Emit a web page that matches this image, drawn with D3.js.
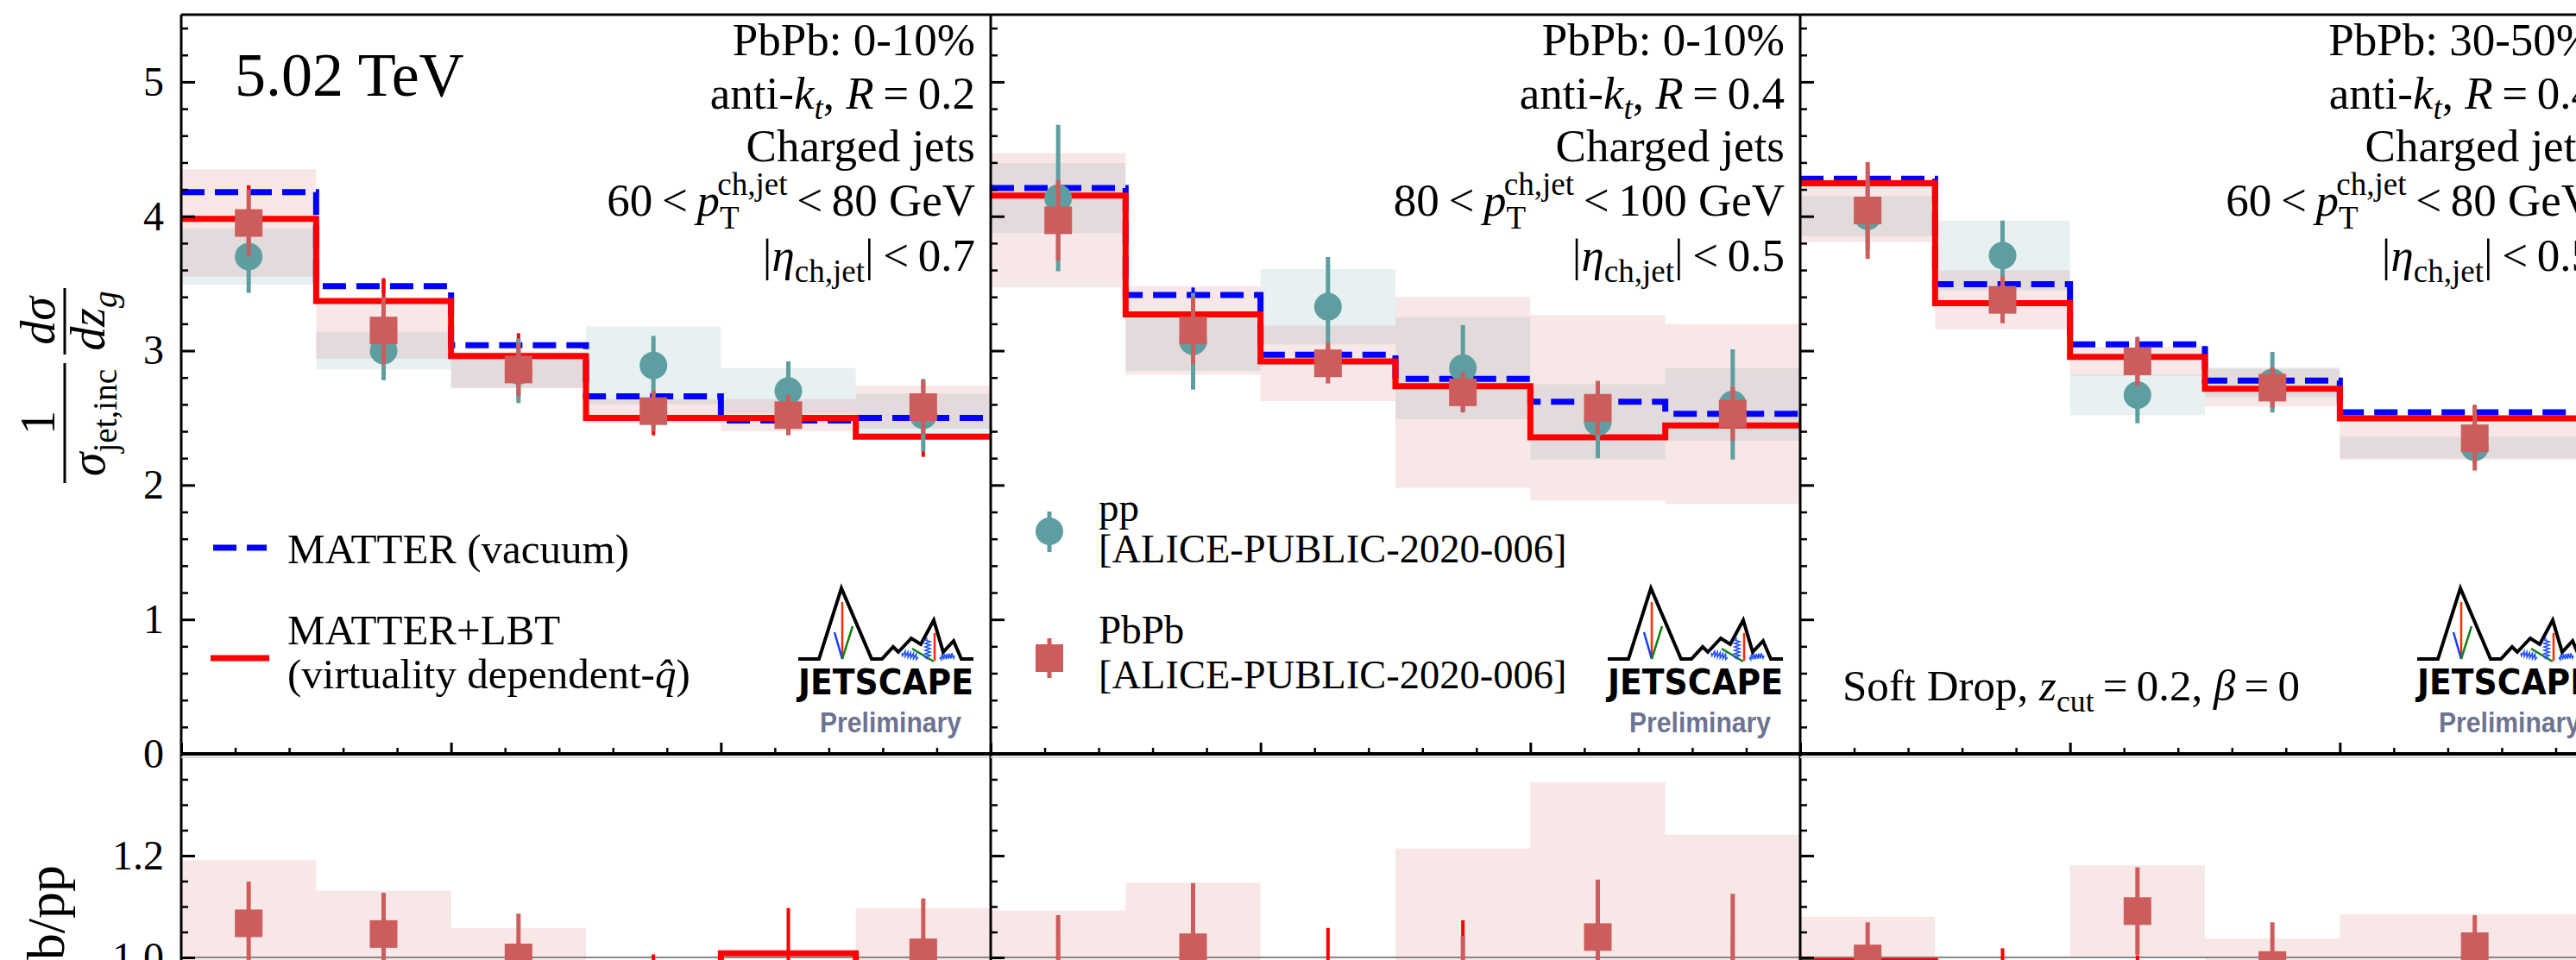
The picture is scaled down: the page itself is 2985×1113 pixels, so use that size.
<!DOCTYPE html>
<html>
<head>
<meta charset="utf-8">
<title>JETSCAPE z_g, PbPb vs pp</title>
<script src="https://cdn.jsdelivr.net/npm/d3@7"></script>
<style>
  body { margin: 0; background: #fff; }
  svg { display: block; }
  text { font-family: "Liberation Serif", "DejaVu Serif", serif; fill: #000; white-space: pre; }
</style>
</head>
<body>
<div id="chart"></div>
<script>

// ---------------- values ----------------

// z_g bin edges (the 30-50% panel uses a wide last bin)
const zgEdgesA = [0.2, 0.25, 0.3, 0.35, 0.4, 0.45, 0.5];
const zgEdgesB = [0.2, 0.25, 0.3, 0.35, 0.4, 0.5];

// panel 1 : PbPb 0-10%, R=0.2, 60-80 GeV
const p1Vacuum    = [4.18, 3.48, 3.04, 2.66, 2.48, 2.50];
const p1VacuumErr = [0.05, 0.05, 0.05, 0.04, 0.04, 0.04];
const p1Lbt       = [3.98, 3.37, 2.96, 2.50, 2.50, 2.36];
const p1LbtErr    = [0.25, 0.17, 0.17, 0.13, 0.12, 0.15];
const p1Pp        = [3.70, 3.00, 2.85, 2.89, 2.70, 2.52];
const p1PpErr     = [0.27, 0.22, 0.24, 0.22, 0.22, 0.27];
const p1PpSys     = [0.21, 0.14, 0.13, 0.29, 0.17, 0.16];
const p1Pb        = [3.95, 3.15, 2.86, 2.55, 2.52, 2.58];
const p1PbErr     = [0.25, 0.25, 0.20, 0.15, 0.15, 0.20];
const p1PbSys     = [0.40, 0.21, 0.135, 0.09, 0.12, 0.16];
const p1RatioTh    = [0.952, 0.967, 0.973, 0.939, 1.008, 0.945];
const p1RatioThErr = [0.030, 0.025, 0.020, 0.067, 0.089, 0.040];
const p1Ratio      = [1.067, 1.046, 1.000, 0.880, 0.930, 1.010];
const p1RatioErr   = [0.082, 0.081, 0.086, 0.090, 0.060, 0.106];
const p1RatioSys   = [0.124, 0.085, 0.058, 0.100, 0.060, 0.087];

// panel 2 : PbPb 0-10%, R=0.4, 80-100 GeV
const p2Vacuum    = [4.21, 3.415, 2.97, 2.79, 2.62, 2.53];
const p2VacuumErr = [0.05, 0.055, 0.05, 0.05, 0.05, 0.05];
const p2Lbt       = [4.154, 3.27, 2.92, 2.735, 2.355, 2.444];
const p2LbtErr    = [0.12, 0.10, 0.10, 0.10, 0.10, 0.10];
const p2Pp        = [4.135, 3.07, 3.327, 2.87, 2.47, 2.60];
const p2PpErr     = [0.545, 0.36, 0.37, 0.32, 0.27, 0.41];
const p2PpSys     = [0.26, 0.22, 0.28, 0.38, 0.28, 0.27];
const p2Pb        = [3.97, 3.15, 2.906, 2.69, 2.575, 2.53];
const p2PbErr     = [0.30, 0.25, 0.15, 0.15, 0.20, 0.20];
const p2PbSys     = [0.50, 0.33, 0.28, 0.71, 0.69, 0.67];
const p2RatioTh    = [0.987, 0.957, 0.983, 0.980, 0.900, 0.966];
const p2RatioThErr = [0.055, 0.030, 0.075, 0.093, 0.050, 0.074];
const p2Ratio      = [0.960, 1.020, 0.873, 0.937, 1.040, 0.965];
const p2RatioErr   = [0.123, 0.126, 0.100, 0.105, 0.113, 0.160];
const p2RatioSys   = [0.132, 0.127, 0.100, 0.277, 0.304, 0.276];

// panel 3 : PbPb 30-50%, R=0.4, 60-80 GeV
const p3Vacuum    = [4.279, 3.494, 3.047, 2.777, 2.541];
const p3VacuumErr = [0.05, 0.05, 0.055, 0.05, 0.05];
const p3Lbt       = [4.245, 3.354, 2.953, 2.717, 2.496];
const p3LbtErr    = [0.15, 0.10, 0.12, 0.10, 0.10];
const p3Pp        = [4.00, 3.708, 2.67, 2.765, 2.28];
const p3PpErr     = [0.25, 0.26, 0.21, 0.225, 0.12];
const p3PpSys     = [0.15, 0.26, 0.15, 0.11, 0.08];
const p3Pb        = [4.043, 3.378, 2.92, 2.725, 2.348];
const p3PbErr     = [0.36, 0.174, 0.18, 0.15, 0.24];
const p3PbSys     = [0.235, 0.22, 0.107, 0.14, 0.16];
const p3RatioTh    = [0.993, 0.964, 0.974, 0.978, 0.982];
const p3RatioThErr = [0.020, 0.054, 0.030, 0.020, 0.015];
const p3Ratio      = [0.998, 0.910, 1.091, 0.985, 1.022];
const p3RatioErr   = [0.071, 0.080, 0.086, 0.084, 0.061];
const p3RatioSys   = [0.082, 0.060, 0.090, 0.052, 0.063];

// panel labels
const centralities = ["0-10%", "0-10%", "30-50%"];
const jetRadii     = ["0.2", "0.4", "0.4"];
const ptLow        = ["60", "80", "60"];
const ptHigh       = ["80", "100", "80"];
const etaMax       = ["0.7", "0.5", "0.5"];

const yTicksTop   = [0, 1, 2, 3, 4, 5];
const yTicksRatio = [1.0, 1.2];
const xTicks      = [0.2, 0.3, 0.4, 0.5];


// ---------------- layout ----------------

const W = 2985, H = 1113;
const LEFT = 210, PANEL_W = 938, TOP = 17, SPLIT = 874;

const svg = d3.select("#chart").append("svg")
    .attr("width", W)
    .attr("height", H);

svg.append("rect").attr("width", W).attr("height", H).attr("fill", "#fff");
const defs = svg.append("defs");

// shared y scales
const yTop = d3.scaleLinear().domain([0, 5.5]).range([SPLIT, TOP]);
const yRatio = d3.scaleLinear().domain([1.0, 1.4]).range([1110, SPLIT]);

const ppColor = "cadetblue", pbColor = "indianred";


/*
 * text with italic parts, sub- and superscripts
 * parts: {t, i (italic), s (size factor), off (baseline offset in em), dx (em)}
 */
function richText(parent, x, y, parts, size, anchor) {
    let t = parent.append("text")
        .attr("x", x).attr("y", y)
        .attr("font-size", size)
        .attr("text-anchor", anchor || "start");
    let cur = 0;
    parts.forEach(p => {
        let off = (p.off || 0) * size;
        let ts = t.append("tspan")
            .attr("font-size", size * (p.s || 1))
            .attr("dy", off - cur)
            .text(p.t);
        if (p.i) ts.attr("font-style", "italic");
        if (p.dx) ts.attr("dx", p.dx * size);
        cur = off;
    });
    return t;
}


// small spring drawn between two points
function coil(g, x1, y1, x2, y2, n) {
    let pts = [];
    let dx = x2 - x1, dy = y2 - y1, len = Math.hypot(dx, dy);
    let nx = -dy / len * 3, ny = dx / len * 3;
    for (let k = 0; k <= n * 2; k++) {
        let f = k / (n * 2), s = k === 0 || k === n * 2 ? 0 : (k % 2 ? 1 : -1);
        pts.push([x1 + dx * f + nx * s, y1 + dy * f + ny * s]);
    }
    g.append("path").attr("d", d3.line()(pts))
        .attr("fill", "none").attr("stroke", "#2050ff").attr("stroke-width", 1.6);
}


// JETSCAPE logo with "Preliminary" tag
function drawLogo(parent, x0, yb) {
    let g = parent.append("g").attr("transform", `translate(${x0},${yb})`);

    let ridge = [[0, 0], [24, 0], [50, -82], [85, 0], [97, 0], [110, -14], [116, -8], [131, -24],
        [142, -17], [157, -45], [168, -8], [180, -21], [189, 0], [203, 0]];
    g.append("path").attr("d", d3.line()(ridge))
        .attr("fill", "none").attr("stroke", "#000").attr("stroke-width", 4);

    // jet lines in the big peak
    g.append("line").attr("x1", 51).attr("y1", 0).attr("x2", 51).attr("y2", -66)
        .attr("stroke", "#ff2a00").attr("stroke-width", 2.5);
    g.append("line").attr("x1", 51).attr("y1", 0).attr("x2", 42).attr("y2", -31)
        .attr("stroke", "#1040ff").attr("stroke-width", 2.5);
    g.append("line").attr("x1", 51).attr("y1", 0).attr("x2", 63).attr("y2", -38)
        .attr("stroke", "#108010").attr("stroke-width", 2.5);

    // small shower in the second peak
    g.append("line").attr("x1", 158).attr("y1", 2).attr("x2", 158).attr("y2", -30)
        .attr("stroke", "#ff2a00").attr("stroke-width", 2.5);
    g.append("line").attr("x1", 132).attr("y1", -12).attr("x2", 157).attr("y2", 3)
        .attr("stroke", "#108010").attr("stroke-width", 2.5);
    coil(g, 120, -7, 139, -2, 6);
    coil(g, 150, -24, 150, 0, 6);
    coil(g, 164, -2, 181, -4, 6);

    g.append("text")
        .attr("x", 0).attr("y", 41)
        .style("font-family", "'DejaVu Sans', sans-serif")
        .style("font-weight", "900")
        .attr("font-size", 40)
        .attr("textLength", 203)
        .attr("lengthAdjust", "spacingAndGlyphs")
        .text("JETSCAPE");

    g.append("text")
        .attr("x", 25).attr("y", 85)
        .style("font-family", "'Liberation Sans', sans-serif")
        .style("font-weight", "bold")
        .attr("font-size", 34)
        .attr("textLength", 164)
        .attr("lengthAdjust", "spacingAndGlyphs")
        .style("fill", "#6d7392")
        .text("Preliminary");
}


/*
 * ZgPanel - one column: spectrum on top, PbPb/pp ratio below
 */
class ZgPanel {

    constructor(_parent, _data, _index) {
        this.parent = _parent;
        this.data = _data;
        this.index = _index;

        this.initVis();
    }

    initVis() {
        let vis = this;

        vis.left = LEFT + vis.index * PANEL_W;
        vis.x = d3.scaleLinear().domain([0.2, 0.5]).range([vis.left, vis.left + PANEL_W]);
        vis.edges = vis.data.edges;
        vis.centers = d3.range(vis.edges.length - 1).map(i => (vis.edges[i] + vis.edges[i + 1]) / 2);

        defs.append("clipPath").attr("id", "clipTop" + vis.index)
            .append("rect").attr("x", vis.left).attr("y", TOP)
            .attr("width", PANEL_W).attr("height", SPLIT - TOP);
        defs.append("clipPath").attr("id", "clipRatio" + vis.index)
            .append("rect").attr("x", vis.left).attr("y", SPLIT)
            .attr("width", PANEL_W).attr("height", 400);

        vis.g = vis.parent.append("g").attr("class", "panel");

        vis.drawSpectrum();
        vis.drawRatio();
        vis.drawAxes();
        vis.drawLabels();
    }

    stepPath(vals, y) {
        let vis = this;
        let pts = vals.map((v, i) => [vis.edges[i], v]);
        pts.push([vis.edges[vis.edges.length - 1], vals[vals.length - 1]]);
        return d3.line()
            .x(d => vis.x(d[0]))
            .y(d => y(d[1]))
            .curve(d3.curveStepAfter)(pts);
    }

    sysBoxes(g, vals, sys, y, color) {
        let vis = this;
        g.append("g").selectAll("rect")
            .data(vals)
            .enter()
            .append("rect")
            .attr("x", (v, i) => vis.x(vis.edges[i]))
            .attr("width", (v, i) => vis.x(vis.edges[i + 1]) - vis.x(vis.edges[i]))
            .attr("y", (v, i) => y(v + sys[i]))
            .attr("height", (v, i) => y(v - sys[i]) - y(v + sys[i]))
            .attr("fill", color)
            .attr("fill-opacity", 0.15);
    }

    errBars(g, vals, err, y, color, width) {
        let vis = this;
        g.append("g").selectAll("line")
            .data(vals)
            .enter()
            .append("line")
            .attr("x1", (v, i) => vis.x(vis.centers[i]))
            .attr("x2", (v, i) => vis.x(vis.centers[i]))
            .attr("y1", (v, i) => y(v - err[i]))
            .attr("y2", (v, i) => y(v + err[i]))
            .attr("stroke", color)
            .attr("stroke-width", width);
    }

    squares(g, vals, y) {
        let vis = this;
        g.append("g").selectAll("rect")
            .data(vals)
            .enter()
            .append("rect")
            .attr("x", (v, i) => vis.x(vis.centers[i]) - 16)
            .attr("y", v => y(v) - 16)
            .attr("width", 32)
            .attr("height", 32)
            .attr("fill", pbColor);
    }

    drawSpectrum() {
        let vis = this, d = vis.data;
        let g = vis.g.append("g").attr("clip-path", `url(#clipTop${vis.index})`);

        // systematic boxes
        vis.sysBoxes(g, d.pp, d.ppSys, yTop, ppColor);
        vis.sysBoxes(g, d.pb, d.pbSys, yTop, pbColor);

        // theory curves
        g.append("path").attr("d", vis.stepPath(d.vacuum, yTop))
            .attr("fill", "none").attr("stroke", "#0000ff")
            .attr("stroke-width", 7).attr("stroke-dasharray", "27,12");
        g.append("path").attr("d", vis.stepPath(d.lbt, yTop))
            .attr("fill", "none").attr("stroke", "#ff0000").attr("stroke-width", 7);
        vis.errBars(g, d.vacuum, d.vacuumErr, yTop, "#0000ff", 4);
        vis.errBars(g, d.lbt, d.lbtErr, yTop, "#ff0000", 4);

        // pp data
        vis.errBars(g, d.pp, d.ppErr, yTop, ppColor, 5);
        g.append("g").selectAll("circle")
            .data(d.pp)
            .enter()
            .append("circle")
            .attr("cx", (v, i) => vis.x(vis.centers[i]))
            .attr("cy", v => yTop(v))
            .attr("r", 16)
            .attr("fill", ppColor);

        // PbPb data
        vis.errBars(g, d.pb, d.pbErr, yTop, pbColor, 5);
        vis.squares(g, d.pb, yTop);
    }

    drawRatio() {
        let vis = this, d = vis.data;
        let g = vis.g.append("g").attr("clip-path", `url(#clipRatio${vis.index})`);

        vis.sysBoxes(g, d.ratio, d.ratioSys, yRatio, pbColor);

        g.append("line")
            .attr("x1", vis.left).attr("x2", vis.left + PANEL_W)
            .attr("y1", yRatio(1)).attr("y2", yRatio(1))
            .attr("stroke", "#888").attr("stroke-width", 2);

        g.append("path").attr("d", vis.stepPath(d.ratioTh, yRatio))
            .attr("fill", "none").attr("stroke", "#ff0000").attr("stroke-width", 7);
        vis.errBars(g, d.ratioTh, d.ratioThErr, yRatio, "#ff0000", 4);

        vis.errBars(g, d.ratio, d.ratioErr, yRatio, pbColor, 5);
        vis.squares(g, d.ratio, yRatio);
    }

    drawAxes() {
        let vis = this;
        let first = vis.index === 0;

        let style = sel => {
            sel.select(".domain").remove();
            sel.attr("font-size", 48);
            sel.selectAll("line").attr("stroke", "#000");
        };

        let minorTop = d3.range(0, 28).map(i => i * 0.2).filter((v, i) => i % 5 !== 0);
        let minorRatio = [1.05, 1.1, 1.15, 1.25, 1.3, 1.35];
        let minorX = d3.range(0, 16).map(i => 0.2 + i * 0.02).filter((v, i) => i % 5 !== 0);

        // upper y axis
        vis.g.append("g").attr("transform", `translate(${vis.left},0)`)
            .call(d3.axisLeft(yTop).tickValues(yTicksTop).tickSizeInner(-16).tickSizeOuter(0)
                .tickPadding(20).tickFormat(first ? d3.format("d") : ""))
            .call(style)
            .selectAll("line").attr("stroke-width", 3);
        vis.g.append("g").attr("transform", `translate(${vis.left},0)`)
            .call(d3.axisLeft(yTop).tickValues(minorTop).tickSizeInner(-8).tickSizeOuter(0).tickFormat(""))
            .call(style)
            .selectAll("line").attr("stroke-width", 2.5);

        // ratio y axis
        vis.g.append("g").attr("transform", `translate(${vis.left},0)`)
            .call(d3.axisLeft(yRatio).tickValues(yTicksRatio).tickSizeInner(-16).tickSizeOuter(0)
                .tickPadding(20).tickFormat(first ? d3.format(".1f") : ""))
            .call(style)
            .selectAll("line").attr("stroke-width", 3);
        vis.g.append("g").attr("transform", `translate(${vis.left},0)`)
            .call(d3.axisLeft(yRatio).tickValues(minorRatio).tickSizeInner(-8).tickSizeOuter(0).tickFormat(""))
            .call(style)
            .selectAll("line").attr("stroke-width", 2.5);

        // z_g ticks on the bottom of the spectrum panel
        vis.g.append("g").attr("transform", `translate(0,${SPLIT})`)
            .call(d3.axisBottom(vis.x).tickValues(xTicks).tickSizeInner(-13).tickSizeOuter(0).tickFormat(""))
            .call(style)
            .selectAll("line").attr("stroke-width", 3);
        vis.g.append("g").attr("transform", `translate(0,${SPLIT})`)
            .call(d3.axisBottom(vis.x).tickValues(minorX).tickSizeInner(-7).tickSizeOuter(0).tickFormat(""))
            .call(style)
            .selectAll("line").attr("stroke-width", 2.5);

        // spines
        vis.g.append("line").attr("x1", vis.left).attr("x2", vis.left)
            .attr("y1", TOP).attr("y2", H).attr("stroke", "#000").attr("stroke-width", 3);
        vis.g.append("line").attr("x1", vis.left).attr("x2", vis.left + PANEL_W)
            .attr("y1", TOP).attr("y2", TOP).attr("stroke", "#000").attr("stroke-width", 3);
        vis.g.append("line").attr("x1", vis.left).attr("x2", vis.left + PANEL_W)
            .attr("y1", SPLIT).attr("y2", SPLIT).attr("stroke", "#000").attr("stroke-width", 4);
        vis.g.append("line").attr("x1", vis.left).attr("x2", vis.left + PANEL_W)
            .attr("y1", SPLIT + 4).attr("y2", SPLIT + 4).attr("stroke", "#d8d8d8").attr("stroke-width", 2);
    }

    drawLabels() {
        let vis = this, i = vis.index;
        let right = vis.left + PANEL_W - 18;
        let fs = 53;

        richText(vis.g, right, 64, [{t: "PbPb: " + centralities[i]}], fs, "end");
        richText(vis.g, right, 126, [
            {t: "anti-"}, {t: "k", i: 1}, {t: "t", i: 1, s: 0.7, off: 0.22},
            {t: ", "}, {t: "R", i: 1}, {t: "\u2009=\u2009" + jetRadii[i]}
        ], fs, "end");
        richText(vis.g, right, 187, [{t: "Charged jets"}], fs, "end");
        richText(vis.g, right, 250, [
            {t: ptLow[i] + "\u2009<\u2009"}, {t: "p", i: 1},
            {t: "T", s: 0.7, off: 0.28},
            {t: "ch,jet", s: 0.7, off: -0.45, dx: -0.43},
            {t: "\u2009<\u2009" + ptHigh[i] + " GeV"}
        ], fs, "end");
        richText(vis.g, right, 314, [
            {t: "|"}, {t: "\u03b7", i: 1}, {t: "ch,jet", s: 0.7, off: 0.25},
            {t: "|\u2009<\u2009" + etaMax[i]}
        ], fs, "end");

        drawLogo(vis.g, vis.left + 715, 764);
    }
}


// ---------------- build panels ----------------

const panelData = [
    {edges: zgEdgesA, vacuum: p1Vacuum, vacuumErr: p1VacuumErr, lbt: p1Lbt, lbtErr: p1LbtErr,
     pp: p1Pp, ppErr: p1PpErr, ppSys: p1PpSys, pb: p1Pb, pbErr: p1PbErr, pbSys: p1PbSys,
     ratioTh: p1RatioTh, ratioThErr: p1RatioThErr, ratio: p1Ratio, ratioErr: p1RatioErr, ratioSys: p1RatioSys},
    {edges: zgEdgesA, vacuum: p2Vacuum, vacuumErr: p2VacuumErr, lbt: p2Lbt, lbtErr: p2LbtErr,
     pp: p2Pp, ppErr: p2PpErr, ppSys: p2PpSys, pb: p2Pb, pbErr: p2PbErr, pbSys: p2PbSys,
     ratioTh: p2RatioTh, ratioThErr: p2RatioThErr, ratio: p2Ratio, ratioErr: p2RatioErr, ratioSys: p2RatioSys},
    {edges: zgEdgesB, vacuum: p3Vacuum, vacuumErr: p3VacuumErr, lbt: p3Lbt, lbtErr: p3LbtErr,
     pp: p3Pp, ppErr: p3PpErr, ppSys: p3PpSys, pb: p3Pb, pbErr: p3PbErr, pbSys: p3PbSys,
     ratioTh: p3RatioTh, ratioThErr: p3RatioThErr, ratio: p3Ratio, ratioErr: p3RatioErr, ratioSys: p3RatioSys}
];

const panels = panelData.map((d, i) => new ZgPanel(svg, d, i));


// ---------------- extra annotations ----------------

richText(svg, LEFT + 62, 111, [{t: "5.02 TeV"}], 72);

// theory legend (panel 1)
svg.append("line").attr("x1", LEFT + 37).attr("x2", LEFT + 99).attr("y1", 635).attr("y2", 635)
    .attr("stroke", "#0000ff").attr("stroke-width", 7).attr("stroke-dasharray", "27,12");
richText(svg, LEFT + 123, 653, [{t: "MATTER (vacuum)"}], 49);
svg.append("line").attr("x1", LEFT + 34).attr("x2", LEFT + 102).attr("y1", 763).attr("y2", 763)
    .attr("stroke", "#ff0000").attr("stroke-width", 7);
richText(svg, LEFT + 123, 747, [{t: "MATTER+LBT"}], 49);
richText(svg, LEFT + 123, 798, [{t: "(virtuality dependent-"}, {t: "q\u0302", i: 1}, {t: ")"}], 49);

// data legend (panel 2)
const lx = LEFT + PANEL_W + 68;
svg.append("line").attr("x1", lx).attr("x2", lx).attr("y1", 593).attr("y2", 640)
    .attr("stroke", ppColor).attr("stroke-width", 5);
svg.append("circle").attr("cx", lx).attr("cy", 616).attr("r", 16).attr("fill", ppColor);
richText(svg, lx + 57, 604, [{t: "pp"}], 47);
richText(svg, lx + 57, 652, [{t: "[ALICE-PUBLIC-2020-006]"}], 46.5);
svg.append("line").attr("x1", lx).attr("x2", lx).attr("y1", 740).attr("y2", 786)
    .attr("stroke", pbColor).attr("stroke-width", 5);
svg.append("rect").attr("x", lx - 16).attr("y", 747).attr("width", 32).attr("height", 32).attr("fill", pbColor);
richText(svg, lx + 57, 746, [{t: "PbPb"}], 47);
richText(svg, lx + 57, 798, [{t: "[ALICE-PUBLIC-2020-006]"}], 46.5);

// grooming settings (panel 3)
richText(svg, LEFT + 2 * PANEL_W + 49, 812, [
    {t: "Soft Drop, "}, {t: "z", i: 1}, {t: "cut", s: 0.7, off: 0.25},
    {t: "\u2009=\u20090.2, "}, {t: "\u03b2", i: 1}, {t: "\u2009=\u20090"}
], 51);

// y axis title of the spectrum panel: 1/sigma_jet,inc  d sigma / d z_g
const yl = svg.append("g").attr("transform", "translate(75,575) rotate(-90)");
yl.append("line").attr("x1", 15).attr("x2", 154).attr("y1", 0).attr("y2", 0)
    .attr("stroke", "#000").attr("stroke-width", 3);
yl.append("line").attr("x1", 164).attr("x2", 241).attr("y1", 0).attr("y2", 0)
    .attr("stroke", "#000").attr("stroke-width", 3);
richText(yl, 85, -12, [{t: "1"}], 56, "middle");
richText(yl, 85, 46, [{t: "\u03c3", i: 1}, {t: "jet,inc", s: 0.7, off: 0.25}], 56, "middle");
richText(yl, 203, -12, [{t: "d\u03c3", i: 1}], 56, "middle");
richText(yl, 203, 46, [{t: "dz", i: 1}, {t: "g", i: 1, s: 0.7, off: 0.25}], 56, "middle");

// y axis title of the ratio panel (cut by the lower edge, as in the figure)
svg.append("text")
    .attr("transform", "translate(74,1003) rotate(-90)")
    .attr("text-anchor", "end")
    .attr("font-size", 62)
    .text("PbPb/pp");

</script>
</body>
</html>
